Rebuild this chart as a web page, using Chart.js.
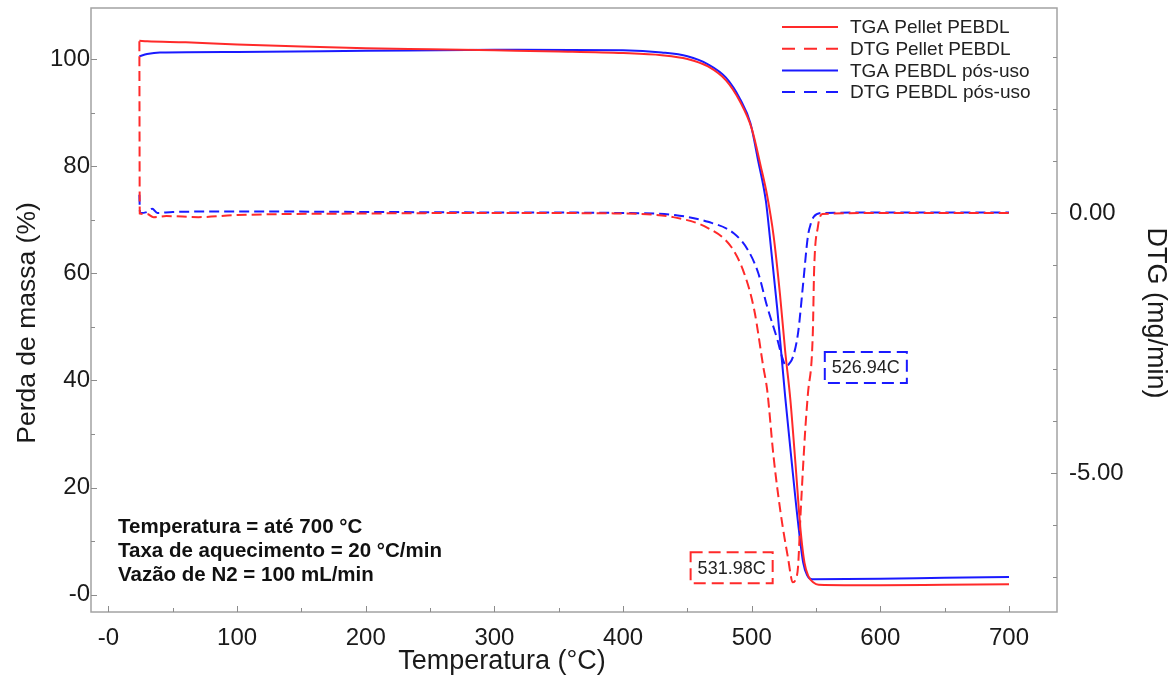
<!DOCTYPE html>
<html lang="pt-BR">
<head>
<meta charset="utf-8">
<title>TGA / DTG · PEBDL</title>
<script src="https://cdn.jsdelivr.net/npm/chart.js@4.4.1/dist/chart.umd.min.js"></script>
<style>
  html, body { margin: 0; padding: 0; background: #ffffff; }
  #wrap { width: 1175px; height: 680px; }
</style>
</head>
<body>
<div id="wrap"><canvas id="tgaChart" width="1175" height="680"></canvas></div>
<script>
// Curvas (temperatura em °C)

// TGA Pellet PEBDL (% de massa)
const tempTgaPellet = [24, 30, 60, 100, 150, 200, 250, 300, 350, 400, 430, 450, 466, 480, 491, 500, 507, 512, 517, 522, 526, 530, 534, 538, 541, 544, 548, 552, 600, 650, 700];
const massaTgaPellet = [103.4, 103.3, 103.1, 102.7, 102.3, 102.0, 101.8, 101.6, 101.4, 101.1, 100.7, 100.0, 98.6, 96.0, 92.0, 87.0, 80.0, 74.5, 67.0, 56.0, 45.5, 36.5, 24.5, 12.0, 6.0, 3.5, 2.3, 1.9, 1.8, 1.9, 2.0];

// DTG Pellet PEBDL (mg/min)
const tempDtgPellet = [24, 24.3, 30, 35, 45, 70, 100, 200, 300, 400, 414, 439, 466, 484, 494, 502, 509, 512, 517, 522.5, 528, 532, 534, 536, 538, 541.6, 543.6, 547.5, 548.5, 551.4, 555, 600, 700];
const dtgPellet = [3.3, -0.01, -0.02, -0.08, -0.06, -0.08, -0.04, -0.01, 0.0, -0.01, -0.02, -0.08, -0.29, -0.65, -1.15, -1.87, -2.96, -3.4, -4.69, -5.77, -6.6, -7.1, -7.05, -6.8, -5.77, -4.17, -3.5, -2.3, -1.1, -0.27, -0.02, 0.0, 0.0];

// TGA PEBDL pós-uso (% de massa)
const tempTgaPosUso = [24, 30, 40, 100, 200, 300, 400, 430, 450, 466, 480, 491, 499, 505, 511, 514, 520, 526, 531, 536, 540, 543, 547, 600, 650, 700];
const massaTgaPosUso = [100.5, 100.9, 101.2, 101.3, 101.5, 101.7, 101.6, 101.2, 100.5, 99.0, 96.5, 92.5, 88.0, 81.0, 73.5, 67.0, 53.0, 37.0, 25.0, 13.5, 6.0, 3.7, 2.9, 3.0, 3.2, 3.35];

// DTG PEBDL pós-uso (mg/min)
const tempDtgPosUso = [24, 24.5, 30, 34, 38, 50, 100, 200, 300, 400, 440, 466, 486, 497, 505, 512, 520, 524, 526.9, 529, 532, 536, 540, 543.6, 546, 548.3, 555, 600, 700];
const dtgPosUso = [0.35, 0.0, 0.02, 0.08, 0.0, 0.02, 0.03, 0.02, 0.01, 0.0, -0.04, -0.17, -0.39, -0.71, -1.15, -1.8, -2.44, -2.8, -2.95, -2.9, -2.77, -2.31, -1.35, -0.46, -0.2, -0.07, 0.0, 0.01, 0.01];

// Rótulos e marcas dos eixos
const rotulosTemperatura = [0, 100, 200, 300, 400, 500, 600, 700];
const marcasTemperatura = [0, 50, 100, 150, 200, 250, 300, 350, 400, 450, 500, 550, 600, 650, 700];
const rotulosMassa = [0, 20, 40, 60, 80, 100];
const rotulosDtg = [0, -5];

// Picos marcados nas curvas DTG
const picos = [
  { texto: '526.94C', cor: '#1a1aff', x: 556.8, y: -2.67 },
  { texto: '531.98C', cor: '#ff2a2a', x: 452.5, y: -6.52 },
];

// Condições do ensaio
const condicoes = [
  'Temperatura = até 700 °C',
  'Taxa de aquecimento = 20 °C/min',
  'Vazão de N2 = 100 mL/min',
];

const VERMELHO = '#ff2a2a';
const AZUL = '#1a1aff';
const FONTE = '"Liberation Sans", Arial, sans-serif';

function pontos(xs, ys) {
  return xs.map((x, i) => ({ x, y: ys[i] }));
}

function serie(label, xs, ys, cor, eixo, tracejado) {
  return {
    label,
    data: pontos(xs, ys),
    borderColor: cor,
    backgroundColor: cor,
    borderWidth: 2,
    borderDash: tracejado ? [10, 5] : [],
    pointRadius: 0,
    cubicInterpolationMode: 'monotone',
    yAxisID: eixo,
  };
}

// Sem folgas automáticas: a área do gráfico fica exatamente onde queremos
function semFolga(scale) {
  scale.paddingTop = 0;
  scale.paddingBottom = 0;
  scale.paddingLeft = 0;
  scale.paddingRight = 0;
}

/**
 * Moldura cinza e marcas de escala voltadas para dentro.
 */
const molduraPlugin = {
  id: 'moldura',
  afterDraw(chart) {
    const { ctx, chartArea: a, scales } = chart;
    ctx.save();
    ctx.strokeStyle = '#a3a3a3';
    ctx.lineWidth = 1.5;
    ctx.setLineDash([]);
    ctx.strokeRect(a.left, a.top, a.right - a.left, a.bottom - a.top);

    ctx.lineWidth = 1;
    ctx.strokeStyle = '#8c8c8c';
    ctx.beginPath();
    scales.x.ticks.forEach((t) => {
      const px = Math.round(scales.x.getPixelForValue(t.value)) + 0.5;
      const len = rotulosTemperatura.includes(t.value) ? 6 : 4;
      ctx.moveTo(px, a.bottom);
      ctx.lineTo(px, a.bottom - len);
    });
    scales.y.ticks.forEach((t) => {
      const py = Math.round(scales.y.getPixelForValue(t.value)) + 0.5;
      const len = rotulosMassa.includes(t.value) ? 6 : 4;
      ctx.moveTo(a.left, py);
      ctx.lineTo(a.left + len, py);
    });
    scales.y2.ticks.forEach((t) => {
      const py = Math.round(scales.y2.getPixelForValue(t.value)) + 0.5;
      const len = rotulosDtg.includes(t.value) ? 6 : 4;
      ctx.moveTo(a.right, py);
      ctx.lineTo(a.right - len, py);
    });
    ctx.stroke();
    ctx.restore();
  },
};

/**
 * Títulos dos eixos (posição igual à do original, que não é centrada).
 */
const titulosPlugin = {
  id: 'titulos',
  afterDraw(chart) {
    const { ctx, chartArea: a } = chart;
    ctx.save();
    ctx.fillStyle = '#1a1a1a';
    ctx.textAlign = 'center';
    ctx.textBaseline = 'middle';

    ctx.font = `27px ${FONTE}`;
    ctx.fillText('Temperatura (°C)', 502, a.bottom + 50);

    ctx.save();
    ctx.font = `26.5px ${FONTE}`;
    ctx.translate(28, 323);
    ctx.rotate(-Math.PI / 2);
    ctx.fillText('Perda de massa (%)', 0, 0);
    ctx.restore();

    ctx.save();
    ctx.font = `27px ${FONTE}`;
    ctx.translate(a.right + 98, 313);
    ctx.rotate(Math.PI / 2);
    ctx.fillText('DTG (mg/min)', 0, 0);
    ctx.restore();

    ctx.restore();
  },
};

/**
 * Legenda no canto superior direito, sem caixa.
 */
const legendaPlugin = {
  id: 'legenda',
  afterDraw(chart) {
    const { ctx, chartArea: a } = chart;
    ctx.save();
    ctx.font = `19px ${FONTE}`;
    ctx.textBaseline = 'middle';
    ctx.textAlign = 'left';
    chart.data.datasets.forEach((ds, i) => {
      const y = a.top + 19 + i * 21.7;
      const x0 = a.right - 275;
      ctx.strokeStyle = ds.borderColor;
      ctx.lineWidth = 2;
      ctx.setLineDash(ds.borderDash.length ? [13, 9] : []);
      ctx.beginPath();
      ctx.moveTo(x0, y);
      ctx.lineTo(x0 + 56, y);
      ctx.stroke();
      ctx.fillStyle = '#222222';
      ctx.fillText(ds.label, x0 + 68, y + 1);
    });
    ctx.restore();
  },
};

/**
 * Caixas tracejadas com a temperatura de pico e texto das condições.
 */
const anotacoesPlugin = {
  id: 'anotacoes',
  afterDraw(chart) {
    const { ctx, chartArea: a, scales } = chart;
    ctx.save();
    ctx.font = `18px ${FONTE}`;
    ctx.textBaseline = 'middle';
    ctx.textAlign = 'left';
    picos.forEach((p) => {
      const x = scales.x.getPixelForValue(p.x);
      const y = scales.y2.getPixelForValue(p.y);
      const w = ctx.measureText(p.texto).width + 14;
      const h = 31;
      ctx.strokeStyle = p.cor;
      ctx.lineWidth = 2;
      ctx.setLineDash([12, 6]);
      ctx.strokeRect(x, y, w, h);
      ctx.fillStyle = '#222222';
      ctx.fillText(p.texto, x + 7, y + h / 2 + 1);
    });

    ctx.font = `bold 20.5px ${FONTE}`;
    ctx.fillStyle = '#111111';
    condicoes.forEach((linha, i) => {
      ctx.fillText(linha, a.left + 27, a.bottom - 85 + i * 24);
    });
    ctx.restore();
  },
};

(function initGrafico() {
  const canvas = document.getElementById('tgaChart');
  if (!canvas) return;

  const fonteTicks = { family: FONTE, size: 24 };
  const semGrade = { display: false, drawTicks: false, tickLength: 0 };

  new Chart(canvas.getContext('2d'), {
    type: 'line',
    data: {
      datasets: [
        serie('TGA Pellet PEBDL', tempTgaPellet, massaTgaPellet, VERMELHO, 'y', false),
        serie('DTG Pellet PEBDL', tempDtgPellet, dtgPellet, VERMELHO, 'y2', true),
        serie('TGA PEBDL pós-uso', tempTgaPosUso, massaTgaPosUso, AZUL, 'y', false),
        serie('DTG PEBDL pós-uso', tempDtgPosUso, dtgPosUso, AZUL, 'y2', true),
      ],
    },
    options: {
      responsive: false,
      animation: false,
      devicePixelRatio: 1,
      layout: { padding: { top: 8, left: 0, right: 0, bottom: 0 } },
      plugins: {
        legend: { display: false },
        tooltip: { enabled: false },
        title: { display: false },
      },
      scales: {
        x: {
          type: 'linear',
          min: -13.6,
          max: 737.3,
          grid: semGrade,
          border: { display: false },
          afterBuildTicks: (scale) => {
            scale.ticks = marcasTemperatura.map((v) => ({ value: v }));
          },
          ticks: {
            autoSkip: false,
            maxRotation: 0,
            padding: 12,
            color: '#1a1a1a',
            font: fonteTicks,
            callback: (v) => (rotulosTemperatura.includes(v) ? (v === 0 ? '-0' : String(v)) : ''),
          },
          title: { display: false },
          afterFit: (scale) => { semFolga(scale); scale.height = 68; },
        },
        y: {
          position: 'left',
          min: -3.2,
          max: 109.5,
          grid: semGrade,
          border: { display: false },
          ticks: {
            stepSize: 10,
            maxTicksLimit: 30,
            includeBounds: false,
            autoSkip: false,
            padding: 1,
            color: '#1a1a1a',
            font: fonteTicks,
            callback: (v) => (rotulosMassa.includes(v) ? (v === 0 ? '-0' : String(v)) : ''),
          },
          title: { display: false },
          afterFit: (scale) => { semFolga(scale); scale.width = 91; },
        },
        y2: {
          position: 'right',
          min: -7.67,
          max: 3.94,
          grid: semGrade,
          border: { display: false },
          ticks: {
            stepSize: 1,
            maxTicksLimit: 30,
            includeBounds: false,
            autoSkip: false,
            padding: 12,
            color: '#1a1a1a',
            font: fonteTicks,
            callback: (v) => (rotulosDtg.includes(v) ? v.toFixed(2) : ''),
          },
          title: { display: false },
          afterFit: (scale) => { semFolga(scale); scale.width = 118; },
        },
      },
    },
    plugins: [molduraPlugin, titulosPlugin, legendaPlugin, anotacoesPlugin],
  });
})();
</script>
</body>
</html>
